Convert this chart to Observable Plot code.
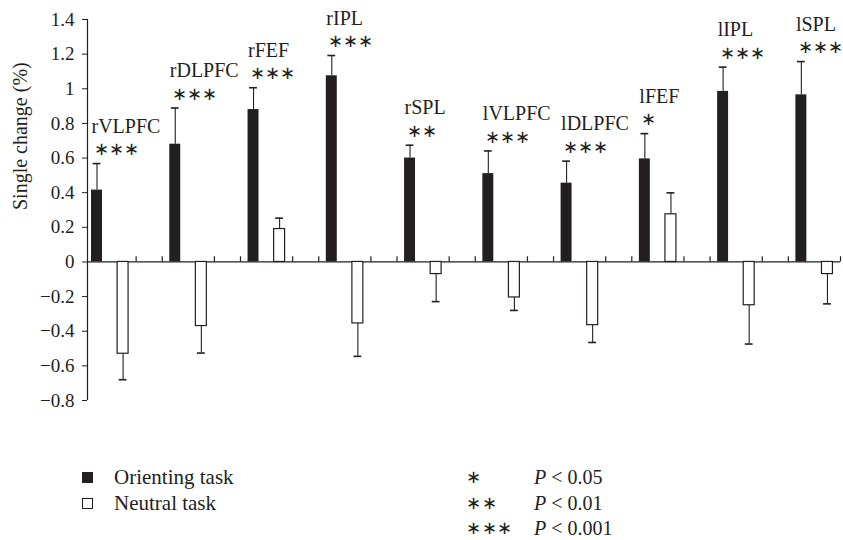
<!DOCTYPE html>
<html>
<head>
<meta charset="utf-8">
<script src="https://cdn.jsdelivr.net/npm/d3@7"></script>
<script src="https://cdn.jsdelivr.net/npm/@observablehq/plot@0.6"></script>
<style>
  html, body { margin: 0; padding: 0; background: #fff; }
  #wrap { position: relative; width: 843px; height: 540px; font-family: "Liberation Serif", serif; color: #231f20; overflow: hidden; }
  .lg { position: absolute; font-size: 21px; line-height: 20px; height: 20px; white-space: nowrap; }
  .sq { position: absolute; width: 11px; height: 11px; box-sizing: border-box; }
</style>
</head>
<body>
<div id="wrap"></div>
<script>
const regions = ["rVLPFC", "rDLPFC", "rFEF", "rIPL", "rSPL", "lVLPFC", "lDLPFC", "lFEF", "lIPL", "lSPL"];
const orienting = [0.415, 0.68, 0.88, 1.075, 0.6, 0.51, 0.455, 0.595, 0.985, 0.965];
const orientingSE = [0.153, 0.209, 0.126, 0.117, 0.074, 0.131, 0.127, 0.146, 0.14, 0.192];
const neutral = [-0.53, -0.37, 0.19, -0.355, -0.07, -0.205, -0.365, 0.275, -0.25, -0.07];
const neutralSE = [0.15, 0.156, 0.063, 0.19, 0.159, 0.075, 0.1, 0.124, 0.224, 0.172];
const significance = ["***", "***", "***", "***", "**", "***", "***", "*", "***", "***"];
const yTicks = [-0.8, -0.6, -0.4, -0.2, 0, 0.2, 0.4, 0.6, 0.8, 1, 1.2, 1.4];
const yTickLabels = ["\u22120.8", "\u22120.6", "\u22120.4", "\u22120.2", "0", "0.2", "0.4", "0.6", "0.8", "1", "1.2", "1.4"];
const yLabel = "Single change (%)";
const legendTasks = ["Orienting task", "Neutral task"];
const legendSig = ["*", "**", "***"];
const legendP = ["0.05", "0.01", "0.001"];

const ink = "#231f20";
const xDomain = [-0.364, 28.5];
const star = s => s.replace(/\*/g, "\u2217");

const oRows = regions.map((r, i) => ({region: r, slot: 3 * i, value: orienting[i], err: orienting[i] + Math.sign(orienting[i]) * orientingSE[i], sig: star(significance[i])}));
const nRows = regions.map((r, i) => ({region: r, slot: 3 * i + 1, value: neutral[i], err: neutral[i] + Math.sign(neutral[i]) * neutralSE[i]}));
const allRows = oRows.concat(nRows);
const sepTicks = [];
regions.forEach((r, i) => { sepTicks.push(3 * i + 1.5); if (i < regions.length - 1) sepTicks.push(3 * i + 2.5); });

const hw = 0.21, cap = 0.15;
const chart = Plot.plot({
  width: 843,
  height: 420,
  marginTop: 19,
  marginBottom: 20,
  marginLeft: 87,
  marginRight: 3,
  style: {fontFamily: "Liberation Serif, serif", fontSize: "19px", color: ink, background: "white", overflow: "visible"},
  x: {type: "linear", domain: xDomain, axis: null},
  y: {domain: [-0.8, 1.4]},
  marks: [
    Plot.ruleX([xDomain[0]], {y1: -0.8, y2: 1.4, stroke: ink, strokeWidth: 1.2}),
    Plot.axisY({ticks: yTicks, tickFormat: d => yTickLabels[yTicks.findIndex(t => Math.abs(t - d) < 1e-9)], tickSize: 5, tickPadding: 8, fontSize: 19, stroke: ink, label: null}),
    Plot.text([yLabel], {frameAnchor: "left", text: d => d, rotate: -90, dx: -67, fontSize: 20, fill: ink}),
    Plot.ruleY([0], {stroke: ink, strokeWidth: 1.2}),
    Plot.ruleX(sepTicks, {x: d => d, y1: 0, y2: 0.03, stroke: ink, strokeWidth: 1.2}),
    Plot.ruleX(allRows, {x: "slot", y1: "value", y2: "err", stroke: ink, strokeWidth: 1.1}),
    Plot.ruleY(allRows, {y: "err", x1: d => d.slot - cap, x2: d => d.slot + cap, stroke: ink, strokeWidth: 1.6}),
    Plot.rect(oRows, {x1: d => d.slot - hw, x2: d => d.slot + hw, y1: 0, y2: "value", fill: ink}),
    Plot.rect(nRows, {x1: d => d.slot - hw, x2: d => d.slot + hw, y1: 0, y2: "value", fill: "white", stroke: ink, strokeWidth: 1.2}),
    Plot.text(oRows, {x: d => d.slot - hw, y: "err", text: "region", textAnchor: "start", lineAnchor: "bottom", dy: -31, fontSize: 20, fill: ink}),
    Plot.text(oRows, {x: d => d.slot - hw, y: "err", text: "sig", textAnchor: "start", lineAnchor: "middle", dx: 2, dy: -14, fontSize: 18, fill: ink, ariaLabel: "asterisks"})
  ]
});
const wrap = document.getElementById("wrap");
wrap.appendChild(chart);
d3.select(chart).selectAll('g[aria-label="asterisks"] text').style("letter-spacing", "0.5px");

// legend
const rowsY = [477, 503, 528];
legendTasks.forEach((t, i) => {
  const sq = document.createElement("div");
  sq.className = "sq";
  sq.style.left = "82px";
  sq.style.top = (rowsY[i] - 5) + "px";
  sq.style.background = i === 0 ? ink : "white";
  sq.style.border = i === 0 ? "none" : "1px solid " + ink;
  wrap.appendChild(sq);
  const tx = document.createElement("div");
  tx.className = "lg";
  tx.style.left = "114px";
  tx.style.top = (rowsY[i] - 10) + "px";
  tx.textContent = t;
  wrap.appendChild(tx);
});
legendSig.forEach((s, i) => {
  const a = document.createElement("div");
  a.className = "lg";
  a.style.left = "466px";
  a.style.top = (rowsY[i] - 10) + "px";
  a.style.fontSize = "18px";
  a.style.letterSpacing = "0.5px";
  a.textContent = star(s);
  wrap.appendChild(a);
  const p = document.createElement("div");
  p.className = "lg";
  p.style.left = "534px";
  p.style.top = (rowsY[i] - 10) + "px";
  p.style.fontSize = "20px";
  p.innerHTML = "<i>P</i> &lt; " + legendP[i];
  wrap.appendChild(p);
});
</script>
</body>
</html>
